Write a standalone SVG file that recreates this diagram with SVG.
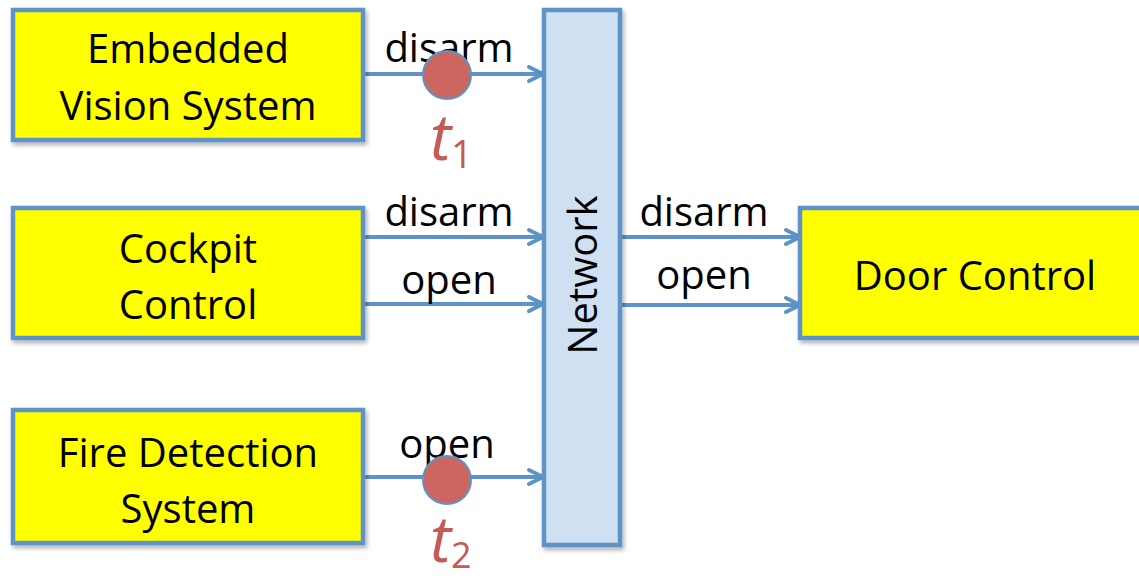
<svg xmlns="http://www.w3.org/2000/svg" width="1139" height="581" viewBox="0 0 1139 581">
<style>
.box{fill:#FFFF00;stroke:#5E93C8;stroke-width:4.5}
.net{fill:#CEE0F2;stroke:#5E93C8;stroke-width:4.5}
.lbl{font-family:"Open Sans","Liberation Sans",sans-serif;font-size:40px;fill:#000;text-anchor:middle}
.edge{stroke:#5E93C8;stroke-width:4;fill:none}
.tok{fill:#CD665F;stroke:#5E93C8;stroke-width:2}
.t{font-family:"Open Sans","Liberation Sans",sans-serif;fill:#C45B55;font-style:italic}
</style>
<defs>
<filter id="sh" x="-10%" y="-10%" width="130%" height="130%">
<feDropShadow dx="2" dy="3" stdDeviation="2" flood-color="#000" flood-opacity="0.3"/>
</filter>
<marker id="ar" viewBox="0 0 20 20" refX="17" refY="10" markerWidth="20" markerHeight="20" markerUnits="userSpaceOnUse" orient="auto">
<path d="M3,3 L17,10 L3,17" fill="none" stroke="#5E93C8" stroke-width="4" stroke-linecap="round" stroke-linejoin="round"/>
</marker>
</defs>
<g id="connectors">
<line class="edge" x1="363" y1="74" x2="543" y2="74" marker-end="url(#ar)"/>
<line class="edge" x1="363" y1="237" x2="543" y2="237" marker-end="url(#ar)"/>
<line class="edge" x1="363" y1="304" x2="543" y2="304" marker-end="url(#ar)"/>
<line class="edge" x1="363" y1="477" x2="543" y2="477" marker-end="url(#ar)"/>
<line class="edge" x1="620" y1="237" x2="800" y2="237" marker-end="url(#ar)"/>
<line class="edge" x1="620" y1="305" x2="800" y2="305" marker-end="url(#ar)"/>
<text class="lbl" x="449" y="62">disarm</text>
<text class="lbl" x="449" y="226">disarm</text>
<text class="lbl" x="449" y="294">open</text>
<text class="lbl" x="447" y="458">open</text>
<text class="lbl" x="704" y="226">disarm</text>
<text class="lbl" x="704" y="289">open</text>
<circle class="tok" cx="447" cy="75" r="24"/>
<circle class="tok" cx="447" cy="480" r="24"/>
<text class="t" x="430" y="160" font-size="64">t<tspan font-size="38" font-style="normal" dy="8">1</tspan></text>
<text class="t" x="430" y="562" font-size="64">t<tspan font-size="36" font-style="normal" dy="6">2</tspan></text>
</g>
<g id="evs">
<rect class="box" x="13" y="10" width="350" height="130" filter="url(#sh)"/>
<text class="lbl" x="188" y="63">Embedded</text>
<text class="lbl" x="188" y="120">Vision System</text>
</g>
<g id="cockpit">
<rect class="box" x="13" y="208" width="350" height="130" filter="url(#sh)"/>
<text class="lbl" x="188" y="263">Cockpit</text>
<text class="lbl" x="188" y="319">Control</text>
</g>
<g id="fire">
<rect class="box" x="13" y="410" width="350" height="133" filter="url(#sh)"/>
<text class="lbl" x="188" y="467">Fire Detection</text>
<text class="lbl" x="188" y="523">System</text>
</g>
<g id="network">
<rect class="net" x="544" y="10" width="76" height="535" filter="url(#sh)"/>
<text class="lbl" transform="translate(597,275) rotate(-90)">Network</text>
</g>
<g id="door">
<rect class="box" x="800" y="208" width="345" height="130" filter="url(#sh)"/>
<text class="lbl" x="975" y="290">Door Control</text>
</g>
</svg>
